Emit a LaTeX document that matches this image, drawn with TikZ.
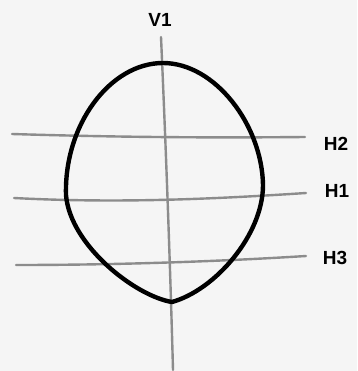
\documentclass[tikz,border=0pt]{standalone}
\usepackage{fontspec}
\setmainfont{Liberation Sans}
\begin{document}
\begin{tikzpicture}[x=1pt,y=-1pt,
  guide/.style={draw=black!45,line width=2.4pt,line cap=round},
  outline/.style={draw=black,line width=4.4pt,line join=round},
  lbl/.style={font=\fontsize{19}{20}\selectfont\bfseries,inner sep=0pt}]
\fill[black!4] (0,0) rectangle (357,371);
\useasboundingbox (0,0) rectangle (357,371);
% guide lines
\draw[guide] (161,37) .. controls (166,150) and (170,260) .. (173,370);
\draw[guide] (12,134) .. controls (110,137) and (200,138) .. (305,137);
\draw[guide] (14,198) .. controls (110,203) and (200,200) .. (306,193);
\draw[guide] (16,265) .. controls (110,265) and (210,262) .. (306,256);
% outline
\draw[outline] (163,63) .. controls (215,63) and (262,125) .. (263,185)
  .. controls (263,235) and (215,290) .. (172,302)
  .. controls (135,296) and (70,245) .. (66,195)
  .. controls (64,125) and (110,63) .. (163,63) -- cycle;
% labels
\node[lbl] (v1) at (160,20) {V1};
\node[lbl] (h2) at (336,144) {H2};
\node[lbl] (h1) at (337,191) {H1};
\node[lbl] (h3) at (335,258) {H3};
\end{tikzpicture}
\end{document}
